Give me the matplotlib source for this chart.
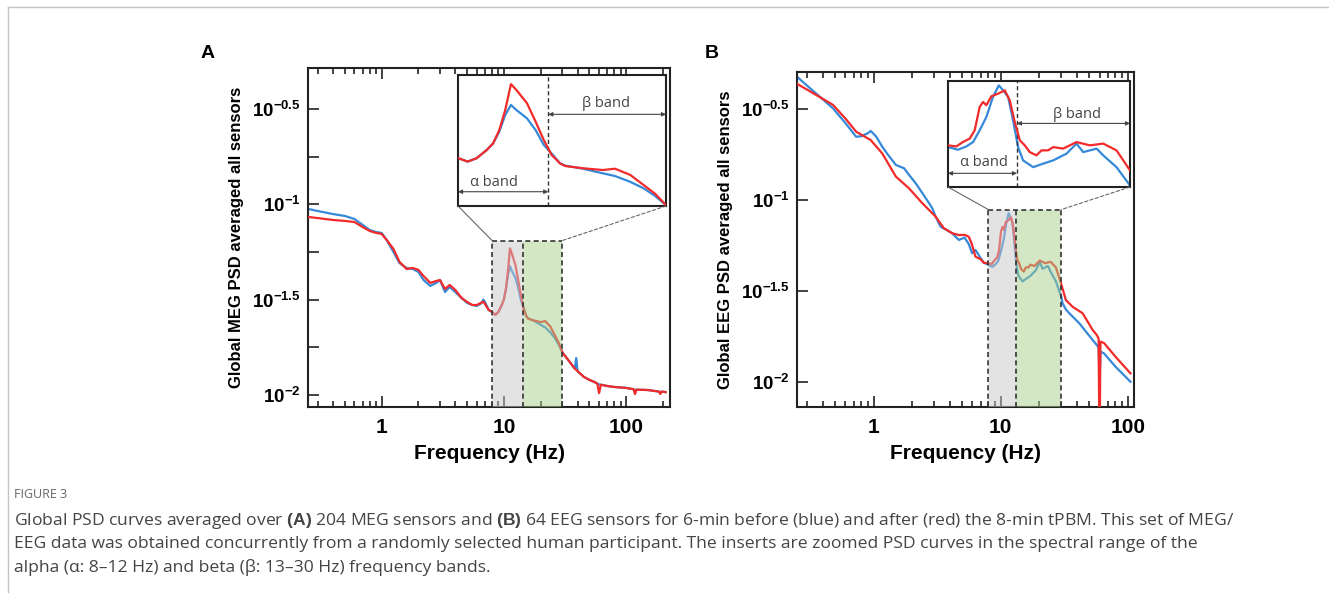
import numpy as np
import matplotlib
matplotlib.use("Agg")
import matplotlib.pyplot as plt
from matplotlib.patches import ConnectionPatch
from matplotlib.lines import Line2D
from matplotlib.ticker import FixedLocator, NullLocator, LogLocator, NullFormatter

plt.rcParams['font.family'] = ['Liberation Sans', 'DejaVu Sans']
plt.rcParams['mathtext.fontset'] = 'custom'
plt.rcParams['mathtext.rm'] = 'Liberation Sans'
plt.rcParams['mathtext.bf'] = 'Liberation Sans:bold'

BLUE = '#3589d8'
RED = '#f22a2a'

# ---- Panel A: MEG, log10 PSD ----
meg_freq = [0.25, 0.3, 0.4, 0.5, 0.6, 0.7, 0.8, 0.9, 1.0, 1.1, 1.25, 1.4, 1.6, 1.8,
            2.0, 2.2, 2.5, 2.8, 3.0, 3.3, 3.6, 4.0, 4.5, 5.0, 5.5, 6.0, 6.5, 6.8,
            7.0, 7.5, 8.0, 8.5, 9.0, 9.6, 10.0, 10.4, 10.8, 11.2, 11.6, 12.4, 13.1,
            13.8, 14.5, 15.3, 15.8, 17.7, 20.1, 21.7, 23.9, 26.0, 28.0, 30.0, 35,
            38, 39, 40, 45, 50, 55, 58, 60, 62, 70, 80, 100, 115, 118, 121, 150,
            185, 190, 195, 210]
meg_before = [-1.024, -1.035, -1.051, -1.061, -1.077, -1.108, -1.135, -1.145, -1.150,
              -1.187, -1.250, -1.308, -1.334, -1.339, -1.355, -1.397, -1.428, -1.412,
              -1.397, -1.460, -1.433, -1.460, -1.491, -1.517, -1.528, -1.533, -1.520,
              -1.500, -1.512, -1.554, -1.564, -1.580, -1.565, -1.528, -1.498, -1.445,
              -1.370, -1.325, -1.348, -1.385, -1.438, -1.505, -1.543, -1.588, -1.598,
              -1.612, -1.633, -1.645, -1.671, -1.700, -1.735, -1.776, -1.832, -1.862,
              -1.806, -1.875, -1.905, -1.921, -1.932, -1.940, -1.945, -1.946, -1.953,
              -1.958, -1.963, -1.970, -1.990, -1.972, -1.974, -1.982, -1.990, -1.982,
              -1.985]
meg_after = [-1.066, -1.072, -1.082, -1.087, -1.093, -1.119, -1.140, -1.150, -1.155,
             -1.187, -1.234, -1.302, -1.339, -1.334, -1.344, -1.376, -1.412, -1.402,
             -1.397, -1.444, -1.423, -1.449, -1.491, -1.512, -1.528, -1.528, -1.517,
             -1.510, -1.523, -1.554, -1.564, -1.580, -1.565, -1.528, -1.498, -1.438,
             -1.348, -1.231, -1.258, -1.317, -1.400, -1.483, -1.550, -1.588, -1.600,
             -1.610, -1.618, -1.612, -1.640, -1.685, -1.725, -1.776, -1.832, -1.862,
             -1.868, -1.875, -1.905, -1.921, -1.932, -1.940, -1.990, -1.946, -1.953,
             -1.958, -1.963, -1.970, -1.995, -1.972, -1.974, -1.982, -1.995, -1.982,
             -1.985]

# ---- Panel B: EEG ----
eeg_freq_before = [0.25, 0.3, 0.4, 0.48, 0.6, 0.73, 0.8, 0.9, 0.95, 1.05, 1.17, 1.3, 1.5,
                   1.74, 1.9, 2.15, 2.42, 2.7, 2.9, 3.08, 3.37, 3.58, 3.8, 4.16, 4.69,
                   5.2, 5.61, 5.96, 6.34, 7.0, 7.36, 8.0, 8.6, 9.14, 9.6, 10.07, 10.57,
                   11.09, 11.57, 11.94, 12.38, 12.83, 13.31, 13.8, 14.85, 15.96, 17.17,
                   18.92, 20.35, 21.35, 23.54, 24.7, 27.2, 30.0, 30.7, 32.6, 34.7, 41.6,
                   53, 57, 59, 60, 61, 65, 80, 105]
eeg_before = [-0.321, -0.370, -0.446, -0.495, -0.575, -0.651, -0.648, -0.632, -0.619,
              -0.650, -0.705, -0.750, -0.806, -0.824, -0.860, -0.907, -0.960, -1.010,
              -1.044, -1.090, -1.145, -1.155, -1.165, -1.181, -1.218, -1.205, -1.240,
              -1.291, -1.273, -1.320, -1.343, -1.354, -1.366, -1.351, -1.331, -1.277,
              -1.216, -1.124, -1.071, -1.094, -1.124, -1.231, -1.354, -1.415, -1.446,
              -1.430, -1.415, -1.384, -1.338, -1.377, -1.361, -1.392, -1.446, -1.530,
              -1.566, -1.600, -1.621, -1.676, -1.768, -1.795, -1.810, -2.005, -1.832,
              -1.841, -1.914, -1.997]
eeg_freq_after = [0.25, 0.3, 0.4, 0.48, 0.6, 0.73, 0.95, 1.17, 1.5, 1.9, 2.42, 3.08, 3.58,
                  4.16, 4.69, 5.2, 5.61, 5.9, 6.34, 7.0, 7.36, 8.0, 8.5, 8.91, 9.37, 9.71,
                  10.07, 10.32, 10.57, 10.96, 11.51, 12.08, 12.53, 12.99, 13.48, 13.97,
                  14.49, 15.21, 15.78, 16.55, 17.17, 18.46, 20.35, 22.42, 24.7, 27.2,
                  30.0, 32.6, 36.8, 44.2, 53, 57, 59, 60, 61, 65, 80, 105]
eeg_after = [-0.360, -0.392, -0.443, -0.476, -0.550, -0.623, -0.669, -0.742, -0.870,
             -0.934, -1.016, -1.090, -1.154, -1.181, -1.191, -1.190, -1.200, -1.235,
             -1.310, -1.325, -1.343, -1.346, -1.351, -1.331, -1.315, -1.277, -1.170,
             -1.147, -1.162, -1.121, -1.109, -1.094, -1.140, -1.239, -1.323, -1.346,
             -1.377, -1.392, -1.369, -1.369, -1.354, -1.361, -1.331, -1.346, -1.338,
             -1.369, -1.461, -1.548, -1.585, -1.621, -1.713, -1.740, -1.760, -2.400,
             -1.777, -1.784, -1.859, -1.951]

ytick_exp = [-0.5, -1, -1.5, -2]
ytick_labels = [r'$\mathbf{10^{-0.5}}$', r'$\mathbf{10^{-1}}$',
                r'$\mathbf{10^{-1.5}}$', r'$\mathbf{10^{-2}}$']
xtick_vals = [1, 10, 100]

caption_lines = [
    r'Global PSD curves averaged over $\mathbf{(A)}$ 204 MEG sensors and $\mathbf{(B)}$ 64 EEG sensors '
    r'for 6-min before (blue) and after (red) the 8-min tPBM. This set of MEG/',
    'EEG data was obtained concurrently from a randomly selected human participant. '
    'The inserts are zoomed PSD curves in the spectral range of the',
    'alpha (\u03b1: 8\u201312 Hz) and beta (\u03b2: 13\u201330 Hz) frequency bands.',
]

W, H = 1329, 601
fig = plt.figure(figsize=(W / 100, H / 100), dpi=100)


def box(x0, y0, x1, y1):
    # pixel box -> figure fraction rect
    return [x0 / W, 1 - y1 / H, (x1 - x0) / W, (y1 - y0) / H]


def draw_panel(main_rect, inset_rect, fb, pb, fa, pa, xlim, ylog, bands,
               inset_ylog, ylabel, letter, letter_xy, quarter_ticks, inset_txt):
    ax = fig.add_axes(main_rect)
    ins = fig.add_axes(inset_rect)
    fb, pb = np.array(fb), np.power(10.0, pb)
    fa, pa = np.array(fa), np.power(10.0, pa)

    for a in (ax, ins):
        a.set_xscale('log')
        a.set_yscale('log')
        a.plot(fb, pb, color=BLUE, lw=1.6, zorder=2)
        a.plot(fa, pa, color=RED, lw=1.6, zorder=3)
        for s in a.spines.values():
            s.set_linewidth(1.5)
            s.set_color('#222222')

    ylo, yhi = 10 ** ylog[0], 10 ** ylog[1]
    ax.set_xlim(*xlim)
    ax.set_ylim(ylo, yhi)
    top = 10 ** inset_ylog[1]
    lo_b, mid_b, hi_b = bands

    # shaded alpha / beta boxes drawn over the curves
    ax.fill_between([lo_b, mid_b], ylo, top, color='#c8c8c8', alpha=0.5, lw=0, zorder=4)
    ax.fill_between([mid_b, hi_b], ylo, top, color='#a9d08c', alpha=0.5, lw=0, zorder=4)
    dash = dict(color='#333333', lw=1.2, ls=(0, (3, 2)), zorder=5)
    for xv in bands:
        ax.plot([xv, xv], [ylo, top], **dash)
    ax.plot([lo_b, hi_b], [top, top], **dash)

    ax.set_yticks(10 ** np.array(ytick_exp), ytick_labels, fontsize=13.5)
    if quarter_ticks:
        ax.yaxis.set_minor_locator(FixedLocator(10 ** np.array([-0.75, -1.25, -1.75])))
    else:
        ax.yaxis.set_minor_locator(NullLocator())
    ax.yaxis.set_minor_formatter(NullFormatter())
    ax.set_xticks(xtick_vals, [str(v) for v in xtick_vals], fontsize=15, fontweight='bold')
    ax.xaxis.set_minor_locator(LogLocator(base=10, subs=np.arange(2, 10)))
    ax.xaxis.set_minor_formatter(NullFormatter())
    ax.tick_params(which='both', direction='in', top=True, right=False, width=1.2,
                   color='#222222')
    ax.tick_params(which='major', length=8)
    ax.tick_params(axis='x', which='minor', length=4)
    ax.tick_params(axis='y', which='minor', length=8)
    ax.tick_params(axis='x', pad=8)
    ax.tick_params(axis='y', pad=5)
    ax.set_xlabel('Frequency (Hz)', fontsize=15, fontweight='bold', labelpad=5)
    ax.set_ylabel(ylabel, fontsize=12, fontweight='bold', labelpad=6)
    fig.text(letter_xy[0] / W, 1 - letter_xy[1] / H, letter, fontsize=14,
             fontweight='bold', ha='center', va='center')

    # inset
    ins.set_xlim(lo_b, hi_b)
    ins.set_ylim(10 ** inset_ylog[0], top)
    ins.set_xticks([])
    ins.set_yticks([])
    ins.minorticks_off()
    ins.tick_params(which='both', length=0)
    ins.axvline(mid_b, color='#333333', lw=1.0, ls=(0, (3, 2)))
    trans = ins.get_xaxis_transform()
    arrow = dict(arrowstyle='<|-|>', color='#444444', lw=0.8, mutation_scale=6,
                 shrinkA=0, shrinkB=0)
    (ay, atx, aty), (by, btx, bty) = inset_txt
    ins.annotate('', xy=(mid_b, ay), xytext=(lo_b, ay), xycoords=trans, arrowprops=arrow)
    ins.annotate('', xy=(hi_b, by), xytext=(mid_b, by), xycoords=trans, arrowprops=arrow)
    tfont = dict(family=['Open Sans', 'DejaVu Sans'], fontsize=10.5, color='#444444',
                 ha='center', va='center', transform=ins.transAxes)
    ins.text(atx, aty, '\u03b1 band', **tfont)
    ins.text(btx, bty, '\u03b2 band', **tfont)

    # zoom connectors
    for xa, xb, ls in ((0, lo_b, '-'), (1, hi_b, (0, (3, 2)))):
        con = ConnectionPatch(xyA=(xa, 0), coordsA=ins.transAxes, xyB=(xb, top),
                              coordsB=ax.transData, color='#666666', lw=0.8, ls=ls)
        fig.add_artist(con)
    return ax, ins


draw_panel(box(308, 68, 670, 407), box(458, 75, 666, 206),
           meg_freq, meg_before, meg_freq, meg_after,
           (0.25, 228), (-2.063, -0.285), (8, 14.2, 30), (-1.78, -1.19),
           'Global MEG PSD averaged all sensors', 'A', (208, 53), True,
           ((0.109, 0.173, 0.183), (0.70, 0.712, 0.786)))

draw_panel(box(797, 72, 1134, 407), box(948, 81, 1130, 187),
           eeg_freq_before, eeg_before, eeg_freq_after, eeg_after,
           (0.25, 112), (-2.136, -0.295), (8, 13.2, 30), (-1.537, -1.051),
           'Global EEG PSD averaged all sensors', 'B', (712, 53), False,
           ((0.129, 0.196, 0.233), (0.60, 0.708, 0.685)))

# outer frame lines of the figure box
fig.add_artist(Line2D([8 / W, 1], [1 - 7 / H, 1 - 7 / H], color='#c4c4c4', lw=1.0))
fig.add_artist(Line2D([8 / W, 8 / W], [1 - 7 / H, 1 - 592 / H], color='#c4c4c4', lw=1.0))

fig.text(14 / W, 1 - 494 / H, 'FIGURE 3', fontsize=9, color='#666666',
         family=['Open Sans', 'DejaVu Sans'], va='center')
for i, line in enumerate(caption_lines):
    fig.text(14 / W, 1 - (521 + 23.5 * i) / H, line, fontsize=12.6, color='#444444',
             family=['Open Sans', 'DejaVu Sans'], va='center')

fig.savefig('out.png', dpi=100)
